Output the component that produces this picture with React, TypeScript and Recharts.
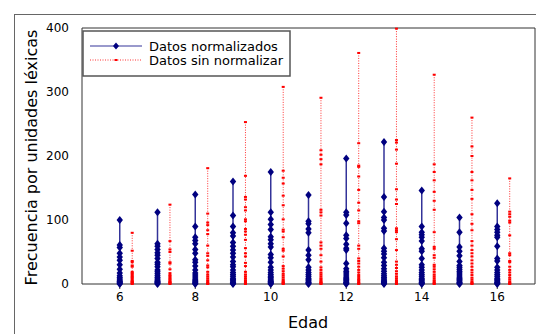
import { LineChart, Line, XAxis, YAxis, ReferenceLine } from "recharts";

const AGES = [6, 7, 8, 9, 10, 11, 12, 13, 14, 15, 16];
const X_TICKS = [6, 8, 10, 12, 14, 16];
const Y_TICKS = [0, 100, 200, 300, 400];

// Datos normalizados (una lista por edad)
const NORM_6 = [100, 61, 57, 48, 42, 37, 30, 23, 17, 13, 10, 8, 6, 4, 3, 2, 1, 0];
const NORM_7 = [112, 63, 59, 54, 49, 45, 40, 34, 31, 27, 22, 19, 16, 13, 10, 8, 6, 4, 3, 2, 1, 0];
const NORM_8 = [140, 90, 73, 68, 63, 54, 48, 38, 34, 28, 22, 17, 14, 11, 8, 6, 4, 2, 1, 0];
const NORM_9 = [160, 107, 90, 80, 75, 65, 59, 53, 48, 42, 35, 30, 27, 22, 18, 15, 12, 9, 7, 5, 3, 2, 1, 0];
const NORM_10 = [175, 112, 101, 93, 85, 74, 69, 63, 58, 46, 41, 34, 26, 22, 18, 15, 12, 10, 8, 6, 4, 3, 2, 1, 0];
const NORM_11 = [139, 98, 94, 86, 80, 53, 45, 38, 26, 22, 18, 15, 12, 9, 7, 5, 3, 2, 1, 0];
const NORM_12 = [196, 112, 108, 95, 76, 71, 62, 56, 53, 32, 24, 20, 17, 14, 11, 9, 7, 5, 3, 2, 1, 0];
const NORM_13 = [222, 136, 113, 104, 100, 87, 83, 56, 51, 47, 41, 34, 29, 24, 20, 16, 13, 10, 8, 6, 4, 3, 2, 1, 0];
const NORM_14 = [146, 90, 81, 77, 73, 67, 55, 51, 40, 30, 26, 22, 18, 15, 12, 9, 7, 5, 3, 2, 1, 0];
const NORM_15 = [104, 81, 58, 51, 44, 35, 29, 26, 23, 20, 17, 14, 11, 9, 7, 5, 3, 2, 1, 0];
const NORM_16 = [126, 90, 85, 81, 76, 73, 59, 40, 36, 26, 22, 18, 15, 12, 9, 7, 5, 3, 2, 1, 0];

// Datos sin normalizar
const RAW_6 = [80, 52, 36, 34, 29, 27, 19, 17, 15, 13, 11, 9, 7, 5, 4, 3, 2, 1, 0];
const RAW_7 = [124, 67, 54, 50, 34, 32, 23, 17, 14, 12, 10, 8, 6, 4, 3, 2, 1, 0];
const RAW_8 = [181, 110, 96, 92, 84, 78, 60, 48, 44, 37, 29, 26, 19, 15, 12, 9, 6, 4, 2, 1, 0];
const RAW_9 = [253, 169, 136, 132, 120, 115, 101, 98, 86, 82, 77, 69, 56, 48, 43, 33, 28, 19, 15, 12, 9, 6, 4, 2, 1, 0];
const RAW_10 = [308, 177, 166, 157, 138, 123, 101, 85, 82, 73, 55, 52, 43, 28, 24, 20, 16, 13, 10, 7, 5, 3, 2, 1, 0];
const RAW_11 = [291, 209, 202, 195, 187, 116, 112, 107, 65, 60, 55, 45, 35, 26, 22, 18, 15, 12, 9, 7, 5, 3, 2, 1, 0];
const RAW_12 = [361, 220, 185, 183, 168, 147, 127, 115, 98, 95, 60, 55, 40, 36, 32, 27, 22, 18, 14, 11, 8, 6, 4, 2, 1, 0];
const RAW_13 = [399, 225, 221, 210, 188, 148, 132, 125, 87, 84, 81, 70, 53, 35, 30, 25, 20, 16, 12, 9, 6, 4, 2, 1, 0];
const RAW_14 = [327, 187, 175, 162, 144, 130, 116, 81, 58, 55, 45, 41, 30, 27, 23, 19, 15, 12, 9, 6, 4, 2, 1, 0];
const RAW_15 = [260, 215, 200, 175, 162, 147, 133, 109, 94, 84, 67, 60, 53, 48, 43, 37, 32, 27, 22, 18, 14, 10, 7, 4, 2, 1, 0];
const RAW_16 = [165, 113, 109, 105, 99, 96, 76, 48, 45, 36, 34, 27, 22, 18, 14, 10, 7, 4, 2, 1, 0];

const NORM = [NORM_6, NORM_7, NORM_8, NORM_9, NORM_10, NORM_11, NORM_12, NORM_13, NORM_14, NORM_15, NORM_16];
const RAW = [RAW_6, RAW_7, RAW_8, RAW_9, RAW_10, RAW_11, RAW_12, RAW_13, RAW_14, RAW_15, RAW_16];

const RAW_SHIFT = 0.33;
const NAVY = "#000080";
const AXIS = "#333";

// one point per value, a null between ages so the line breaks
function buildSeries(groups: number[][], shift: number) {
  const out: { x: number; y: number | null }[] = [];
  groups.forEach((vals, i) => {
    const x = AGES[i] + shift;
    vals.forEach((v) => out.push({ x, y: v }));
    out.push({ x: x + 0.5, y: null });
  });
  return out;
}

const normData = buildSeries(NORM, 0);
const rawData = buildSeries(RAW, RAW_SHIFT);

const Diamond = (p: any) => {
  if (p.cx == null || p.cy == null || p.value == null) return <g key={p.key ?? p.index} />;
  const { cx, cy } = p;
  return (
    <path
      key={p.key ?? p.index}
      d={`M${cx},${cy - 4}L${cx + 3.2},${cy}L${cx},${cy + 4}L${cx - 3.2},${cy}Z`}
      fill={NAVY}
    />
  );
};

const Square = (p: any) => {
  if (p.cx == null || p.cy == null || p.value == null) return <g key={p.key ?? p.index} />;
  return <rect key={p.key ?? p.index} x={p.cx - 1.5} y={p.cy - 1} width={3} height={2} fill="#ff0000" />;
};

export default function App() {
  return (
    <div style={{ position: "relative", width: 536, height: 334, overflow: "hidden", background: "#fff", fontFamily: "'DejaVu Sans', sans-serif" }}>
      <style>{"body{margin:0}"}</style>
      {/* figure frame */}
      <div style={{ position: "absolute", left: 14, top: 14, width: 600, height: 400, border: "1.5px solid #666" }} />
      <LineChart width={536} height={334} margin={{ top: 28, right: 1, left: 52, bottom: 0 }}>
        <XAxis
          dataKey="x"
          type="number"
          domain={[5, 17]}
          ticks={X_TICKS}
          allowDataOverflow
          height={50}
          tickSize={5}
          tickMargin={3}
          stroke={AXIS}
          tick={{ fill: "#000", fontSize: 12 }}
        />
        <YAxis
          type="number"
          domain={[0, 400]}
          ticks={Y_TICKS}
          width={30}
          tickLine={false}
          tickMargin={7}
          stroke={AXIS}
          tick={{ fill: "#000", fontSize: 12 }}
        />
        <ReferenceLine y={400} stroke={AXIS} />
        <ReferenceLine x={17} stroke={AXIS} />
        <Line
          data={normData}
          dataKey="y"
          stroke={NAVY}
          strokeOpacity={0.8}
          strokeWidth={1.5}
          dot={Diamond}
          activeDot={false}
          isAnimationActive={false}
        />
        <Line
          data={rawData}
          dataKey="y"
          stroke="#ff3030"
          strokeWidth={1}
          strokeDasharray="1 1.5"
          dot={Square}
          activeDot={false}
          isAnimationActive={false}
        />
      </LineChart>
      <svg width={536} height={334} style={{ position: "absolute", left: 0, top: 0, pointerEvents: "none" }}>
        <text transform="translate(36.5,157.5) rotate(-90)" textAnchor="middle" fontSize={16} fill="#000">
          Frecuencia por unidades léxicas
        </text>
        <text x={308} y={328} textAnchor="middle" fontSize={16} fill="#000">
          Edad
        </text>
        <rect x={83} y={31} width={207} height={45} fill="#fff" stroke="#555" strokeWidth={1.5} />
        <line x1={90} y1={46} x2={142} y2={46} stroke={NAVY} strokeOpacity={0.8} strokeWidth={1.2} />
        <path d="M116,42.5L119,46L116,49.5L113,46Z" fill={NAVY} />
        <text x={149} y={51} fontSize={13} fill="#000">Datos normalizados</text>
        <line x1={90} y1={60} x2={142} y2={60} stroke="#ff3030" strokeDasharray="1 1.5" />
        <rect x={114.5} y={59} width={3} height={2} fill="#ff0000" />
        <text x={149} y={65} fontSize={13} fill="#000">Datos sin normalizar</text>
      </svg>
    </div>
  );
}
